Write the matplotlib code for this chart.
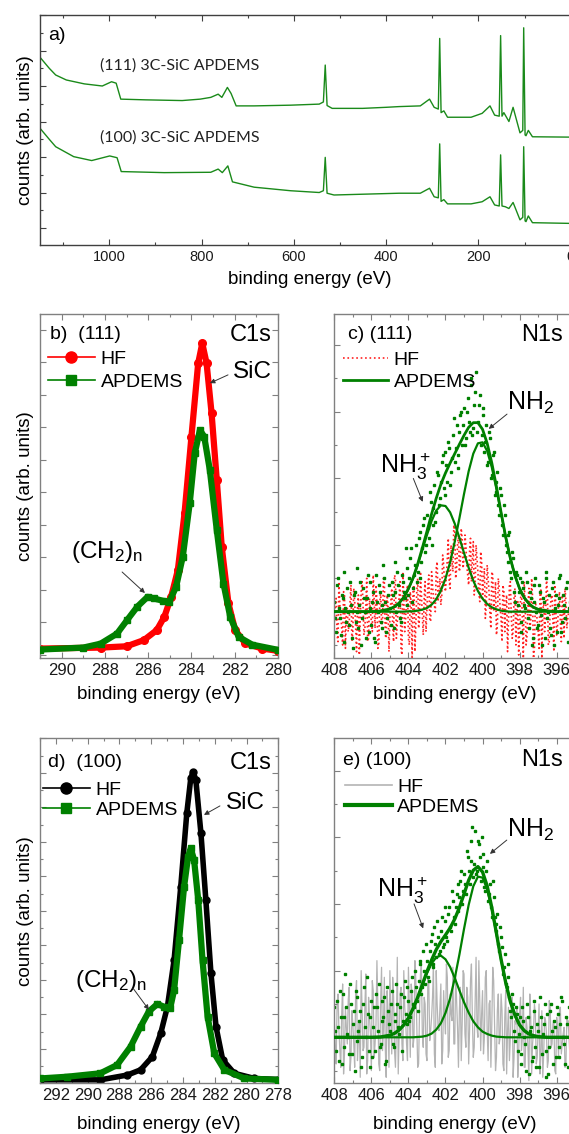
import numpy as np
import matplotlib
matplotlib.use('Agg')
import matplotlib.pyplot as plt
from matplotlib.ticker import MultipleLocator
from matplotlib.lines import Line2D

plt.rcParams['font.family'] = ['Liberation Sans', 'DejaVu Sans']
plt.rcParams['mathtext.default'] = 'regular'

# ---- panel a: survey spectra (eV, arb. counts with offset) ----
a_ev_111 = [1150, 1130, 1116, 1093, 1054, 1015, 995, 985, 975, 921, 842, 803, 780, 764, 756,
            744, 736, 725, 686, 607, 545, 536, 532, 528, 517, 451, 400, 372, 326, 306, 296,
            287, 284, 281, 275, 267, 216, 192, 175, 165, 155, 152, 149, 145, 134, 125, 110,
            104, 102, 99, 97, 92, 83, 0, -20]
a_111 = [5.81, 5.50, 5.31, 5.17, 5.06, 5.00, 5.12, 5.08, 4.63, 4.61, 4.59, 4.63, 4.68, 4.77, 4.68,
         4.96, 4.79, 4.44, 4.44, 4.46, 4.49, 4.55, 5.59, 4.45, 4.37, 4.37, 4.40, 4.42, 4.44, 4.63, 4.40,
         4.35, 6.34, 4.25, 4.30, 4.12, 4.12, 4.23, 4.44, 4.18, 4.15, 6.42, 4.15, 4.25, 4.00, 4.40, 3.68,
         3.75, 6.64, 3.62, 3.60, 3.75, 3.57, 3.56, 3.56]
a_ev_100 = [1150, 1130, 1116, 1077, 1038, 999, 983, 974, 881, 780, 764, 755, 743, 733, 686,
            607, 545, 536, 532, 528, 513, 372, 326, 306, 296, 287, 284, 281, 275, 267, 216,
            192, 175, 165, 155, 152, 149, 142, 134, 125, 110, 104, 102, 99, 97, 92, 83, 0, -20]
a_100 = [3.81, 3.50, 3.29, 3.01, 2.90, 3.03, 2.98, 2.59, 2.56, 2.57, 2.66, 2.56, 2.75, 2.30, 2.15,
         2.05, 2.00, 2.05, 2.99, 1.98, 1.93, 1.98, 1.98, 2.12, 1.88, 1.85, 3.37, 1.75, 1.80, 1.68, 1.68,
         1.74, 1.88, 1.65, 1.62, 3.06, 1.62, 1.60, 1.55, 1.72, 1.23, 1.30, 3.29, 1.20, 1.18, 1.34, 1.15,
         1.13, 1.13]

# ---- panel b: C1s (111) ----
b_hf_ev = [291.0, 288.2, 287.0, 286.2, 285.6, 285.25, 284.94, 284.63, 284.32, 284.0, 283.69,
           283.5, 283.3, 283.07, 282.83, 282.6, 282.29, 281.98, 281.51, 280.73, 280.0]
b_hf = [0.19, 0.22, 0.26, 0.45, 0.76, 1.17, 1.78, 2.60, 4.35, 6.71, 8.96,
        9.58, 8.96, 7.43, 5.37, 3.32, 1.58, 0.76, 0.35, 0.19, 0.12]
b_ap_ev = [291.0, 289.0, 288.2, 287.44, 286.97, 286.5, 286.03, 285.72, 285.33, 285.02, 284.71,
           284.4, 284.08, 283.85, 283.61, 283.41, 283.15, 282.83, 282.52, 282.21, 281.82, 281.19, 280.0]
b_ap = [0.16, 0.22, 0.34, 0.65, 1.07, 1.48, 1.78, 1.73, 1.66, 1.63, 2.09,
        3.02, 4.66, 6.19, 6.91, 6.71, 5.68, 3.84, 2.19, 1.17, 0.55, 0.31, 0.15]

# ---- panel d: C1s (100) ----
d_hf_ev = [293.0, 289.2, 287.5, 286.67, 285.93, 285.4, 284.98, 284.56, 284.14, 283.76, 283.51,
           283.36, 283.19, 282.87, 282.56, 282.24, 281.92, 281.5, 280.77, 279.5, 278.0]
d_hf = [0.10, 0.10, 0.24, 0.39, 0.77, 1.45, 2.22, 3.57, 5.70, 7.83, 8.84,
        9.03, 8.79, 7.25, 5.31, 3.19, 1.64, 0.68, 0.29, 0.14, 0.11]
d_ap_ev = [293.0, 291.3, 289.2, 288.15, 287.3, 286.67, 286.15, 285.61, 285.2, 284.81, 284.56,
           284.25, 283.93, 283.68, 283.51, 283.3, 283.04, 282.77, 282.45, 282.03, 281.4, 280.13, 278.0]
d_ap = [0.14, 0.19, 0.29, 0.53, 1.06, 1.64, 2.08, 2.30, 2.22, 2.17, 2.70,
        4.15, 5.70, 6.57, 6.81, 6.47, 5.31, 3.57, 1.93, 0.87, 0.39, 0.14, 0.10]

# ---- panels c, e: N1s raw data; "_a" on the 0.1 eV grid from 408.00 eV,
#      "_b" on the 0.1 eV grid from 407.95 eV ----
c_hf_a = [-0.3, 0.4, -0.9, 0.2, -0.5, 0.6, -1.1, 0.1, -0.4, 0.8,
          -0.6, 0.3, -1.2, 0.5, -0.2, 0.9, -0.7, 0.2, -0.9, 0.4,
          -0.3, 1.1, -0.5, 0.3, -1.0, 0.6, -0.4, 0.9, -0.8, 0.2,
          -0.2, 0.7, -0.9, 1.0, -0.3, 0.5, -1.1, 1.2, -0.6, 0.4,
          -0.8, 0.6, -1.5, 0.8, -0.4, 1.0, -0.2, 0.5, -0.7, 0.9,
          0.1, 1.1, -0.3, 0.8, 0.2, 1.3, 0.3, 1.0, 0.5, 1.4,
          0.6, 1.6, 0.9, 2.0, 1.2, 2.4, 1.3, 2.3, 1.5, 2.2,
          1.6, 2.0, 1.1, 1.8, 0.9, 2.1, 0.8, 1.6, 0.6, 1.8,
          0.4, 1.3, 0.2, 1.0, -0.1, 1.2, 0.0, 0.9, -0.4, 0.7,
          -0.2, 0.8, -0.6, 0.5, -0.3, 0.9, -0.8, 0.4, -1.0, 0.3,
          -0.5, 0.6, -1.4, 0.2, -0.7, 0.7, -0.3, 0.4, -1.1, 0.1,
          -0.6, 0.5, -1.4, 0.3, -0.2, 0.6, -0.9, 0.4, -0.4, 0.8,
          -0.7, 0.2, -0.3, 0.5, -0.8, 0.3, -0.2, 0.1]
c_hf_b = [0.2, -0.7, 0.9, -0.1, -1.0, 0.5, 0.0, -0.6, 0.3, -0.9,
          0.7, -0.4, 0.1, -1.3, 0.6, 0.2, -0.5, 1.0, -0.8, 0.0,
          -0.6, 0.4, 0.8, -1.1, 0.2, -0.3, 1.0, -0.7, 0.5, -1.2,
          0.3, -0.4, 1.1, -0.8, 0.0, 0.9, -1.3, 0.4, -0.2, 0.8,
          -1.0, 0.2, 0.7, -1.2, 0.6, -0.5, 1.2, -0.1, 0.4, -0.6,
          0.8, -0.2, 1.2, 0.4, 0.0, 1.5, 0.6, 0.2, 1.7, 0.8,
          1.1, 2.2, 0.7, 1.5, 2.6, 1.0, 2.0, 1.2, 2.5, 1.3,
          2.3, 1.4, 0.8, 2.2, 1.5, 0.5, 2.0, 1.2, 0.3, 1.5,
          0.9, -0.2, 1.4, 0.6, -0.5, 1.1, 0.3, -0.7, 1.0, 0.1,
          -0.9, 0.6, 0.2, -1.2, 0.8, -0.1, -0.6, 0.7, 0.0, -1.3,
          0.4, -0.2, 0.9, -1.0, 0.2, -0.5, 1.0, -1.4, 0.3, -0.3,
          -1.1, 0.7, 0.0, -0.6, 1.0, -1.0, 0.1, 0.5, -1.2, 0.2,
          -0.4, 0.6, -0.9, 0.2, 0.7, -0.5, 0.0, 0.4]
c_ap_a = [0.3, -0.6, 1.0, -0.2, 0.5, -0.9, 0.1, 0.7, -0.4, 0.2,
          -1.1, 0.6, 0.0, -0.5, 0.9, -0.2, 0.4, -0.8, 1.1, 0.1,
          -0.4, 0.6, -0.9, 0.3, 0.8, -0.3, 0.2, 1.0, -0.6, 0.5,
          0.1, 0.9, -0.5, 0.6, 1.2, 0.2, -0.3, 0.9, 0.4, 1.3,
          0.5, 1.6, 0.3, 1.1, 2.0, 1.2, 2.4, 1.5, 2.6, 1.8,
          2.9, 2.2, 3.3, 2.6, 3.8, 3.0, 4.1, 3.4, 4.5, 3.7,
          4.8, 3.9, 4.9, 4.2, 5.3, 4.5, 5.6, 4.7, 5.9, 5.0,
          6.1, 5.2, 6.4, 5.4, 6.8, 5.5, 6.6, 5.4, 6.2, 5.0,
          5.9, 4.8, 5.6, 4.5, 5.2, 4.1, 4.8, 3.6, 4.2, 2.9,
          3.5, 2.3, 2.9, 1.8, 2.3, 1.2, 1.8, 0.6, 1.2, 0.2,
          1.0, -0.3, 0.7, 0.1, 0.9, -0.5, 0.4, -0.8, 0.8, 0.0,
          -0.4, 0.6, -1.0, 0.3, 1.0, -0.2, 0.5, -0.7, 0.9, 0.1,
          -0.6, 0.4, 1.1, -0.3, 0.2, 0.7, -0.9, 0.3]
c_ap_b = [-0.2, 0.8, 0.1, -0.7, 0.4, 1.2, -0.3, 0.0, 0.9, -0.8,
          0.5, -0.3, 1.3, 0.2, -1.0, 0.7, 0.0, 0.4, -0.6, 0.9,
          0.3, -0.8, 1.1, 0.0, 0.6, -0.5, 1.4, 0.3, -0.2, 0.8,
          -0.4, 0.5, 1.5, 0.0, 0.8, -0.2, 1.1, 0.6, 1.9, 0.2,
          1.0, 1.9, 0.7, 1.4, 0.9, 2.2, 1.0, 1.9, 2.8, 2.0,
          2.5, 3.6, 2.0, 3.1, 2.7, 4.2, 3.2, 3.9, 4.7, 3.5,
          4.4, 5.1, 3.8, 4.6, 5.8, 4.9, 4.3, 5.4, 6.0, 5.6,
          5.0, 6.0, 5.7, 7.0, 5.3, 6.2, 7.2, 5.7, 6.5, 5.3,
          6.1, 5.1, 4.4, 5.4, 4.0, 4.7, 3.5, 3.9, 3.2, 3.7,
          2.6, 3.2, 2.0, 1.5, 2.4, 1.0, 1.6, 0.3, 1.1, 0.6,
          -0.6, 0.9, 0.2, 1.2, -0.2, 0.6, -1.0, 0.3, 1.0, -0.5,
          0.8, -0.1, 0.4, -0.8, 1.2, 0.0, -0.5, 0.7, -1.0, 0.5,
          0.2, 1.0, -0.6, 0.5, -0.2, 0.9, 0.1, -0.7]
e_hf_a = [0.5, -0.8, 1.3, -0.4, 0.7, -1.1, 0.9, -0.2, 1.5, -0.6,
          0.4, -0.9, 1.7, 0.0, -1.2, 0.8, -0.3, 1.9, -0.7, 0.6,
          -1.0, 1.4, -0.2, 2.3, -0.8, 1.1, -0.4, 1.8, -1.2, 0.7,
          2.0, -0.5, 1.2, -0.9, 2.4, 0.1, 1.5, -0.7, 0.9, -0.2,
          2.1, -0.6, 1.3, 0.0, 1.7, -0.9, 0.8, 2.2, -0.3, 1.0,
          -0.7, 1.6, 0.2, 1.2, -0.5, 2.0, 0.3, 0.9, -0.8, 1.4,
          0.1, 1.8, -0.4, 0.7, 2.1, -0.2, 1.1, -0.9, 1.5, 0.4,
          1.9, -0.3, 1.2, 0.2, 2.2, -0.6, 1.0, 0.3, 2.3, -0.4,
          1.4, 0.0, 2.0, -0.7, 1.1, 0.4, 1.7, -1.0, 0.8, -0.2,
          1.3, -0.8, 0.6, -1.1, 0.9, 0.0, 1.2, -0.6, 0.4, -1.2,
          0.7, -0.4, 1.5, -0.9, 0.3, -1.3, 0.6, -0.2, 1.0, -0.8,
          0.2, -1.1, 0.8, -0.5, 0.5, -0.9, 1.1, -0.3, 0.4, -1.0,
          0.6, -0.6, 0.9, -0.2, 0.3, -0.8, 0.5, -0.4]
e_hf_b = [-0.3, 1.0, 0.2, -0.9, 1.6, -0.5, 0.3, 1.1, -1.0, 0.8,
          -0.2, 1.3, -0.7, 0.5, 2.0, -0.4, 0.9, -1.1, 1.2, 0.1,
          1.7, -0.6, 0.4, 1.0, -1.0, 2.1, 0.2, -0.3, 1.4, -0.9,
          0.6, 1.8, -0.4, 0.3, -1.1, 1.3, -0.2, 2.0, 0.5, -0.7,
          0.9, 1.6, -0.3, 2.3, 0.4, -0.8, 1.9, 0.1, 1.2, -0.5,
          1.8, -0.1, 0.6, 2.1, -0.9, 1.0, 0.2, 1.6, -0.4, 0.7,
          2.2, -0.6, 1.3, 0.5, -0.2, 1.9, 0.3, 0.8, -0.7, 2.0,
          0.1, 1.5, -0.8, 1.7, 0.6, -0.3, 2.4, 0.0, 1.1, 0.7,
          -0.5, 1.8, 0.2, 1.0, -0.9, 2.1, 0.4, -0.6, 1.3, 0.0,
          0.8, -1.0, 1.4, 0.2, -0.7, 1.0, -1.2, 0.5, 0.9, -0.5,
          1.2, 0.0, -0.9, 0.6, -0.3, 1.3, -1.1, 0.2, 0.7, -0.6,
          1.0, -0.4, -1.2, 0.6, 0.1, -0.7, 0.9, -0.2, 0.5, -1.1,
          0.3, 0.8, -0.5, 0.1, -0.9, 0.6, 0.2, -0.3]
e_ap_a = [0.9, -0.4, 0.3, 1.4, -0.8, 0.6, 1.9, 0.1, -0.5, 1.0,
          0.4, -1.0, 1.2, 0.2, 0.8, -0.6, 1.5, 0.0, 0.7, -0.9,
          1.1, 0.3, -0.4, 0.9, 1.6, -0.2, 0.5, 1.2, -0.7, 0.8,
          0.2, 1.4, -0.3, 0.7, 1.0, 0.1, 1.3, 0.5, 1.7, 0.4,
          1.1, 0.6, 1.8, 0.9, 1.5, 0.8, 2.2, 1.3, 2.6, 1.6,
          2.3, 1.7, 2.9, 2.1, 3.3, 2.4, 3.0, 2.6, 3.6, 2.8,
          3.5, 2.9, 3.9, 3.2, 4.1, 3.4, 4.3, 3.8, 4.7, 4.0,
          4.9, 4.3, 5.4, 4.6, 5.9, 4.8, 6.2, 5.0, 5.8, 4.7,
          5.5, 4.5, 5.0, 4.1, 4.6, 3.6, 4.2, 3.2, 3.7, 2.6,
          3.0, 1.9, 2.5, 1.5, 1.8, 0.8, 1.3, 0.2, 0.9, -0.4,
          0.6, -0.8, 0.5, -0.2, 1.0, -1.1, 0.3, -0.6, 0.8, -0.9,
          0.2, 1.2, -0.5, 0.4, -1.2, 0.7, -0.3, 1.0, -0.8, 0.3,
          0.9, -0.6, 0.4, 1.1, -0.2, 0.6, -0.9, 0.5]
e_ap_b = [0.2, 1.1, -0.7, 0.6, 1.3, -0.3, 0.9, 0.0, 1.6, -0.5,
          0.8, 1.4, -0.1, 0.5, -0.9, 1.0, 0.3, 1.8, -0.4, 0.6,
          -0.6, 0.9, 1.3, 0.2, -0.3, 1.1, 0.6, -0.8, 1.5, 0.4,
          1.0, -0.2, 0.5, 1.6, 0.3, 0.9, -0.4, 1.2, 0.7, 1.5,
          0.5, 1.4, 1.0, 2.0, 1.1, 1.7, 2.3, 1.5, 2.0, 2.8,
          1.8, 2.6, 3.1, 2.2, 2.8, 3.5, 2.5, 3.2, 2.7, 3.9,
          3.0, 3.7, 3.3, 4.4, 3.6, 3.9, 4.6, 4.2, 5.0, 4.4,
          4.6, 5.6, 5.0, 5.3, 6.3, 5.2, 4.9, 5.9, 5.4, 6.0,
          5.1, 4.4, 5.3, 4.3, 3.9, 4.7, 3.6, 3.4, 2.8, 3.3,
          2.7, 2.1, 1.6, 2.2, 1.2, 0.6, 1.0, -0.1, 0.7, 0.1,
          -0.5, 0.9, 0.0, -1.0, 0.6, 0.2, -0.7, 1.1, -0.3, 0.4,
          -0.9, 0.6, 0.1, 1.0, -0.4, -1.1, 0.8, 0.2, 0.5, -0.6,
          0.7, -0.3, 1.2, 0.0, -0.8, 0.4, 0.9, -0.1]

# fitted components
fit_ev = [408, 407, 406, 405.5, 405, 404.75, 404.5, 404.25, 404, 403.75, 403.5, 403.25, 403,
          402.75, 402.5, 402.25, 402, 401.75, 401.5, 401.25, 401, 400.75, 400.5, 400.25, 400,
          399.75, 399.5, 399.25, 399, 398.75, 398.5, 398.25, 398, 397.75, 397.5, 397.25, 397,
          396.5, 396, 395]
c_nh3 = [0, 0, 0, 0.02, 0.08, 0.15, 0.26, 0.43, 0.68, 1.00, 1.40, 1.85, 2.30,
         2.72, 3.03, 3.19, 3.17, 2.98, 2.64, 2.22, 1.76, 1.32, 0.93, 0.62, 0.39,
         0.23, 0.13, 0.07, 0.03, 0.01, 0, 0, 0, 0, 0, 0, 0, 0, 0, 0]
c_nh2 = [0, 0, 0, 0, 0, 0, 0, 0, 0.01, 0.01, 0.03, 0.06, 0.11,
         0.21, 0.37, 0.63, 0.99, 1.48, 2.10, 2.80, 3.53, 4.21, 4.74, 5.05, 5.08,
         4.82, 4.33, 3.68, 2.95, 2.23, 1.60, 1.08, 0.69, 0.42, 0.24, 0.13, 0.07, 0.02, 0, 0]
c_env = [0, 0, 0, 0.02, 0.08, 0.15, 0.26, 0.43, 0.69, 1.01, 1.43, 1.91, 2.41,
         2.93, 3.40, 3.82, 4.16, 4.46, 4.74, 5.02, 5.29, 5.53, 5.67, 5.67, 5.47,
         5.05, 4.46, 3.75, 2.98, 2.24, 1.60, 1.08, 0.69, 0.42, 0.24, 0.13, 0.07, 0.02, 0, 0]
e_nh3 = [0, 0, 0, 0.01, 0.06, 0.12, 0.22, 0.37, 0.58, 0.86, 1.19, 1.56, 1.92,
         2.21, 2.40, 2.45, 2.34, 2.11, 1.78, 1.41, 1.05, 0.74, 0.48, 0.30, 0.17,
         0.10, 0.05, 0.02, 0.01, 0, 0, 0, 0, 0, 0, 0, 0, 0, 0, 0]
e_nh2 = [0, 0, 0, 0, 0, 0, 0, 0, 0, 0, 0.01, 0.02, 0.05,
         0.11, 0.23, 0.42, 0.73, 1.17, 1.77, 2.48, 3.25, 3.97, 4.53, 4.82, 4.79,
         4.44, 3.84, 3.10, 2.33, 1.64, 1.07, 0.66, 0.37, 0.20, 0.10, 0.05, 0.02, 0, 0, 0]
e_env = [0, 0, 0, 0.01, 0.06, 0.12, 0.22, 0.37, 0.58, 0.86, 1.20, 1.58, 1.97,
         2.32, 2.63, 2.87, 3.07, 3.28, 3.55, 3.89, 4.30, 4.71, 5.01, 5.12, 4.96,
         4.54, 3.89, 3.12, 2.34, 1.64, 1.07, 0.66, 0.37, 0.20, 0.10, 0.05, 0.02, 0, 0, 0]

GREEN = '#008000'
W, H = 569, 1134


def box(l, t, r, b):
    return [l / W, 1 - b / H, (r - l) / W, (b - t) / H]


def merged(a, b):
    # interleave the two 0.1 eV grids into one 0.05 eV series
    vals = np.column_stack([a, b]).ravel()
    return 408.0 - 0.05 * np.arange(len(vals)), vals


def style(ax, col, lsize):
    for s in ax.spines.values():
        s.set_color(col)
        s.set_linewidth(1.0)
    ax.tick_params(which='both', direction='in', top=True, right=True, color=col,
                   labelcolor='#1a1a1a', labelsize=lsize, width=0.8, labelleft=False)
    ax.tick_params(which='major', length=4)
    ax.tick_params(which='minor', length=2)


def arrow(ax, start, end):
    ax.annotate('', xy=end, xytext=start, xycoords='axes fraction', textcoords='axes fraction',
                arrowprops=dict(arrowstyle='-|>', color='#333333', lw=0.7, mutation_scale=7,
                                shrinkA=0, shrinkB=0))


fig = plt.figure(figsize=(W / 100, H / 100), dpi=100)

# ---------------- a ----------------
axa = fig.add_axes(box(40, 15, 580, 244.7))
axa.plot(a_ev_111, a_111, color='#1a8a1a', lw=1.0)
axa.plot(a_ev_100, a_100, color='#1a8a1a', lw=1.0)
axa.set_xlim(1150, -20)
axa.set_ylim(0.53, 7.0)
axa.xaxis.set_major_locator(MultipleLocator(200))
axa.xaxis.set_minor_locator(MultipleLocator(100))
axa.yaxis.set_major_locator(MultipleLocator(1))
axa.yaxis.set_minor_locator(MultipleLocator(0.5))
style(axa, '#404040', 10.5)
axa.set_xlabel('binding energy (eV)', fontsize=13.5, labelpad=5)
axa.set_ylabel('counts (arb. units)', fontsize=13.5, labelpad=4)
axa.text(0.015, 0.909, 'a)', transform=axa.transAxes, fontsize=14, va='center')
axa.text(0.111, 0.782, '(111) 3C-SiC APDEMS', transform=axa.transAxes, fontsize=11.5,
         va='center', family=['Lato', 'DejaVu Sans'], color='#222222')
axa.text(0.111, 0.4645, '(100) 3C-SiC APDEMS', transform=axa.transAxes, fontsize=11.5,
         va='center', family=['Lato', 'DejaVu Sans'], color='#222222')

# ---------------- b ----------------
axb = fig.add_axes(box(40, 314, 278, 658))
axb.plot(b_hf_ev, b_hf, color='red', lw=4.5, marker='o', ms=5.5, zorder=2)
axb.plot(b_ap_ev, b_ap, color=GREEN, lw=4.5, marker='s', ms=5, zorder=3)
axb.set_xlim(291, 280)
axb.set_ylim(-0.1, 10.48)
axb.xaxis.set_major_locator(MultipleLocator(2))
axb.xaxis.set_minor_locator(MultipleLocator(1))
axb.yaxis.set_major_locator(MultipleLocator(1))
style(axb, '#808080', 12)
axb.set_xlabel('binding energy (eV)', fontsize=13.5, labelpad=6)
axb.set_ylabel('counts (arb. units)', fontsize=13.5, labelpad=4)
axb.text(0.042, 0.939, 'b)  (111)', transform=axb.transAxes, fontsize=14, va='center')
axb.text(0.975, 0.939, 'C1s', transform=axb.transAxes, fontsize=17, va='center', ha='right')
axb.text(0.975, 0.831, 'SiC', transform=axb.transAxes, fontsize=17.5, va='center', ha='right')
arrow(axb, (0.790, 0.823), (0.714, 0.799))
axb.text(0.13, 0.29, '(CH$_2$)$_n$', transform=axb.transAxes, fontsize=17.5, va='baseline')
arrow(axb, (0.345, 0.25), (0.441, 0.189))
hb = [Line2D([], [], color='red', lw=1.2, marker='o', ms=8),
      Line2D([], [], color=GREEN, lw=1.2, marker='s', ms=7)]
axb.legend(hb, ['HF', 'APDEMS'], loc='upper left', bbox_to_anchor=(0.034, 0.895), frameon=False,
           fontsize=14, handlelength=2.4, handletextpad=0.3, labelspacing=0.3, borderpad=0,
           borderaxespad=0, numpoints=1)

# ---------------- c ----------------
axc = fig.add_axes(box(334.3, 314, 575.2, 658))
ev, hf = merged(c_hf_a, c_hf_b)
axc.plot(ev, hf, color='#ff2020', lw=1.2, ls=':', zorder=1)
ev, ap = merged(c_ap_a, c_ap_b)
axc.plot(ev, ap, ls='none', marker='s', ms=1.8, color=GREEN, zorder=2)
axc.plot(fit_ev, c_nh3, color=GREEN, lw=1.6, zorder=3)
axc.plot(fit_ev, c_nh2, color=GREEN, lw=1.6, zorder=3)
axc.plot(fit_ev, c_env, color=GREEN, lw=2.0, zorder=3)
axc.set_xlim(408, 395)
axc.set_ylim(-1.39, 8.93)
axc.xaxis.set_major_locator(MultipleLocator(2))
axc.xaxis.set_minor_locator(MultipleLocator(1))
axc.yaxis.set_major_locator(MultipleLocator(2))
axc.yaxis.set_minor_locator(MultipleLocator(1))
style(axc, '#808080', 12)
axc.set_xlabel('binding energy (eV)', fontsize=13.5, labelpad=6)
axc.text(0.057, 0.939, 'c) (111)', transform=axc.transAxes, fontsize=14, va='center')
axc.text(0.949, 0.939, 'N1s', transform=axc.transAxes, fontsize=17, va='center', ha='right')
axc.text(0.717, 0.721, 'NH$_2$', transform=axc.transAxes, fontsize=18, va='baseline')
arrow(axc, (0.717, 0.709), (0.641, 0.666))
axc.text(0.189, 0.538, 'NH$_3^+$', transform=axc.transAxes, fontsize=18, va='baseline')
arrow(axc, (0.328, 0.522), (0.367, 0.454))
hc = [Line2D([], [], color='#ff2020', lw=1.2, ls=':'),
      Line2D([], [], color=GREEN, lw=2.0)]
axc.legend(hc, ['HF', 'APDEMS'], loc='upper left', bbox_to_anchor=(0.036, 0.892), frameon=False,
           fontsize=14, handlelength=2.3, handletextpad=0.3, labelspacing=0.25, borderpad=0,
           borderaxespad=0)

# ---------------- d ----------------
axd = fig.add_axes(box(40, 738.3, 278.3, 1083.3))
axd.plot(d_hf_ev, d_hf, color='black', lw=4.0, marker='o', ms=5, zorder=2)
axd.plot(d_ap_ev, d_ap, color=GREEN, lw=4.5, marker='s', ms=5, zorder=3)
axd.set_xlim(293, 278)
axd.set_ylim(0, 10)
axd.xaxis.set_major_locator(MultipleLocator(2))
axd.xaxis.set_minor_locator(MultipleLocator(1))
axd.yaxis.set_major_locator(MultipleLocator(1))
axd.yaxis.set_minor_locator(MultipleLocator(0.5))
style(axd, '#808080', 12)
axd.set_xlabel('binding energy (eV)', fontsize=13.5, labelpad=9)
axd.set_ylabel('counts (arb. units)', fontsize=13.5, labelpad=4)
axd.text(0.034, 0.929, 'd)  (100)', transform=axd.transAxes, fontsize=14, va='center')
axd.text(0.974, 0.929, 'C1s', transform=axd.transAxes, fontsize=17, va='center', ha='right')
axd.text(0.944, 0.813, 'SiC', transform=axd.transAxes, fontsize=17.5, va='center', ha='right')
arrow(axd, (0.755, 0.804), (0.688, 0.778))
axd.text(0.147, 0.279, '(CH$_2$)$_n$', transform=axd.transAxes, fontsize=17.5, va='baseline')
arrow(axd, (0.39, 0.276), (0.457, 0.213))
hd = [Line2D([], [], color='black', lw=1.2, marker='o', ms=8),
      Line2D([], [], color=GREEN, lw=1.2, marker='s', ms=7)]
axd.legend(hd, ['HF', 'APDEMS'], loc='upper left', bbox_to_anchor=(0.013, 0.876), frameon=False,
           fontsize=14, handlelength=2.4, handletextpad=0.3, labelspacing=0.13, borderpad=0,
           borderaxespad=0, numpoints=1)

# ---------------- e ----------------
axe = fig.add_axes(box(334.3, 738.3, 575.2, 1083.3))
ev, hf = merged(e_hf_a, e_hf_b)
axe.plot(ev, hf, color='#b4b4b4', lw=0.9, zorder=1)
ev, ap = merged(e_ap_a, e_ap_b)
axe.plot(ev, ap, ls='none', marker='s', ms=1.8, color=GREEN, zorder=2)
axe.plot(fit_ev, e_nh3, color=GREEN, lw=1.6, zorder=3)
axe.plot(fit_ev, e_nh2, color=GREEN, lw=1.6, zorder=3)
axe.plot(fit_ev, e_env, color=GREEN, lw=2.4, zorder=3)
axe.set_xlim(408, 395)
axe.set_ylim(-1.38, 8.97)
axe.xaxis.set_major_locator(MultipleLocator(2))
axe.xaxis.set_minor_locator(MultipleLocator(1))
axe.yaxis.set_major_locator(MultipleLocator(2))
axe.yaxis.set_minor_locator(MultipleLocator(1))
style(axe, '#808080', 12)
axe.set_xlabel('binding energy (eV)', fontsize=13.5, labelpad=9)
axe.text(0.036, 0.937, 'e) (100)', transform=axe.transAxes, fontsize=14, va='center')
axe.text(0.949, 0.937, 'N1s', transform=axe.transAxes, fontsize=17, va='center', ha='right')
axe.text(0.717, 0.715, 'NH$_2$', transform=axe.transAxes, fontsize=18, va='baseline')
arrow(axe, (0.716, 0.705), (0.646, 0.665))
axe.text(0.178, 0.54, 'NH$_3^+$', transform=axe.transAxes, fontsize=18, va='baseline')
arrow(axe, (0.331, 0.52), (0.369, 0.449))
he = [Line2D([], [], color='#b4b4b4', lw=1.2),
      Line2D([], [], color=GREEN, lw=3.0)]
axe.legend(he, ['HF', 'APDEMS'], loc='upper left', bbox_to_anchor=(0.044, 0.885), frameon=False,
           fontsize=14, handlelength=2.4, handletextpad=0.3, labelspacing=0.13, borderpad=0,
           borderaxespad=0)

fig.savefig('out.png', dpi=100)
